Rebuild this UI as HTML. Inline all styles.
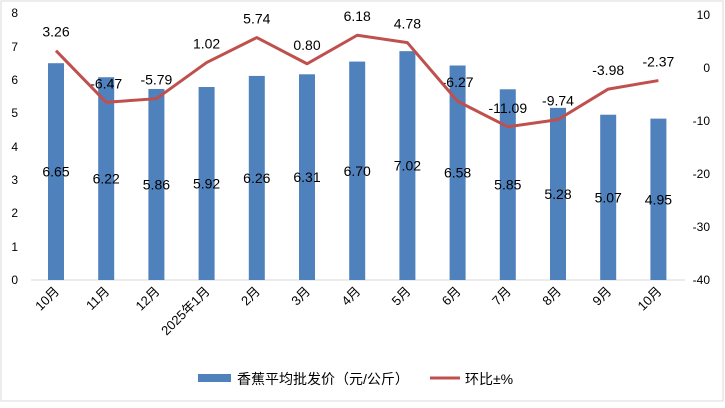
<!DOCTYPE html>
<html><head><meta charset="utf-8"><style>
body{margin:0;background:#fff}
svg text{font-family:"Liberation Sans","Noto Sans CJK SC",sans-serif}
</style></head><body>
<svg width="725" height="403" xmlns="http://www.w3.org/2000/svg">
<rect x="1" y="1" width="722" height="400" fill="#fff" stroke="#d9d9d9"/>
<g font-size="12" fill="#000" text-anchor="end">
<text x="18" y="284">0</text><text x="18" y="251">1</text><text x="18" y="217">2</text><text x="18" y="184">3</text><text x="18" y="151">4</text><text x="18" y="117">5</text><text x="18" y="84">6</text><text x="18" y="51">7</text><text x="18" y="17">8</text>
</g>
<g font-size="12" fill="#000" text-anchor="end">
<text x="710" y="19">10</text><text x="710" y="72">0</text><text x="710" y="125">-10</text><text x="710" y="178">-20</text><text x="710" y="231">-30</text><text x="710" y="284">-40</text>
</g>
<line x1="31" y1="280" x2="685" y2="280" stroke="#d9d9d9"/>
<g fill="#4f81bd" id="bars"></g>
<g id="lbl" font-size="14" text-anchor="middle"></g>
<polyline id="ln" fill="none" stroke="#c0504d" stroke-width="3" stroke-linejoin="round"/>
<g id="xl" font-size="13" text-anchor="end"></g>
<rect x="198" y="374" width="33" height="8" fill="#4f81bd"/>
<text x="237" y="384" font-size="14">香蕉平均批发价（元/公斤）</text>
<line x1="430" y1="378" x2="460" y2="378" stroke="#c0504d" stroke-width="3"/>
<text x="465" y="384" font-size="14">环比±%</text>
</svg>
<script>
var v=[6.65,6.22,5.86,5.92,6.26,6.31,6.70,7.02,6.58,5.85,5.28,5.07,4.95];
var r=[3.26,-6.47,-5.79,1.02,5.74,0.80,6.18,4.78,-6.27,-11.09,-9.74,-3.98,-2.37];
var x=["10月","11月","12月","2025年1月","2月","3月","4月","5月","6月","7月","8月","9月","10月"];
var ns="http://www.w3.org/2000/svg",b=document.getElementById("bars"),l=document.getElementById("lbl"),xl=document.getElementById("xl"),pts=[];
function el(p,t,a,tx){var e=document.createElementNS(ns,t);for(var k in a)e.setAttribute(k,a[k]);if(tx)e.textContent=tx;p.appendChild(e);return e;}
for(var i=0;i<13;i++){var cx=56+i*50.2,h=v[i]*32.6;
el(b,"rect",{x:cx-8,y:280-h,width:16,height:h});
el(l,"text",{x:cx,y:280-h/2+5},v[i].toFixed(2));
var ry=68-r[i]*5.3;pts.push(cx+","+ry);
el(l,"text",{x:cx,y:ry-14},r[i].toFixed(2));
el(xl,"text",{x:cx+4,y:292,transform:"rotate(-45 "+(cx+4)+" 292)"},x[i]);}
document.getElementById("ln").setAttribute("points",pts.join(" "));
</script>
</body></html>
